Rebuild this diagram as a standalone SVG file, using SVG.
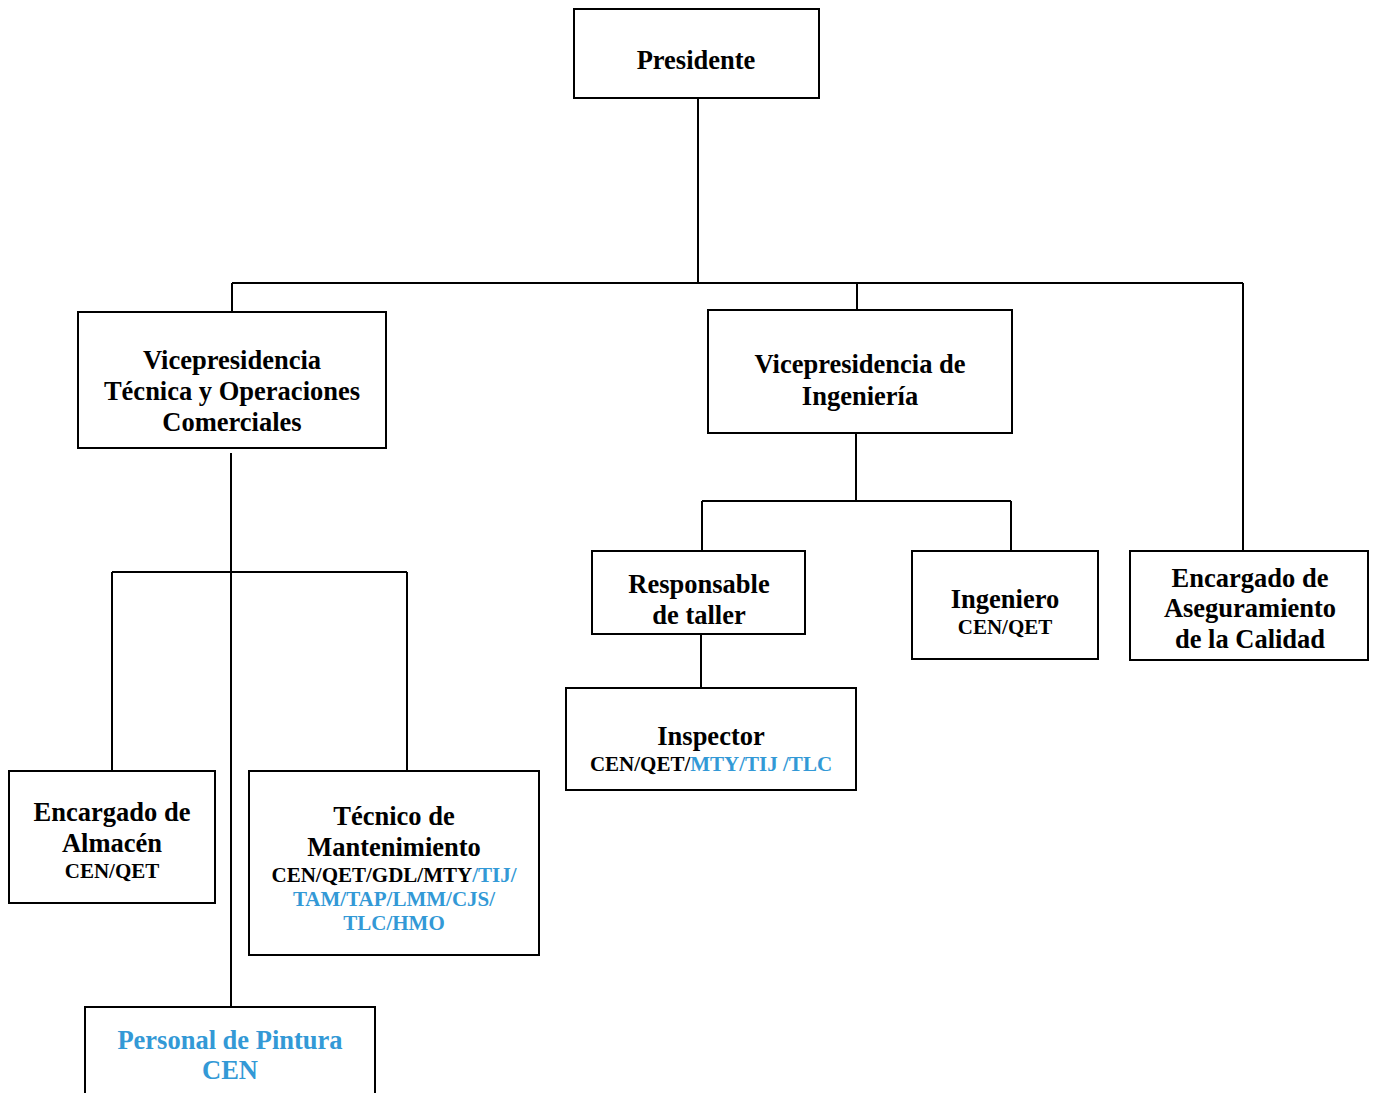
<svg xmlns="http://www.w3.org/2000/svg" width="1373" height="1093" viewBox="0 0 1373 1093">
<style>
.box{fill:#fff;stroke:#000;stroke-width:2}
.ln{stroke:#000;stroke-width:2;fill:none}
text{font-family:"Liberation Serif","Times New Roman",serif;font-weight:bold;text-anchor:middle;fill:#000}
.t{font-size:26.5px}
.s{font-size:21px}
.b{fill:#3399D6}
</style>
<rect width="1373" height="1093" fill="#fff"/>
<g id="connectors">
<path class="ln" d="M698,98V283M232,283H1243M232,283V312M857,283V310M1243,283V551"/>
<path class="ln" d="M856,433V501M702,501H1011M702,501V551M1011,501V551M701,634V688"/>
<path class="ln" d="M231,453V1010M112,572H407M112,572V771M407,572V771"/>
</g>
<g id="presidente">
<rect class="box" x="574" y="9" width="245" height="89"/>
<text class="t" x="696" y="69">Presidente</text>
</g>
<g id="vp-tecnica">
<rect class="box" x="78" y="312" width="308" height="136"/>
<text class="t" x="232" y="369">Vicepresidencia</text>
<text class="t" x="232" y="400">Técnica y Operaciones</text>
<text class="t" x="232" y="431">Comerciales</text>
</g>
<g id="vp-ingenieria">
<rect class="box" x="708" y="310" width="304" height="123"/>
<text class="t" x="860" y="373">Vicepresidencia de</text>
<text class="t" x="860" y="405">Ingeniería</text>
</g>
<g id="aseguramiento">
<rect class="box" x="1130" y="551" width="238" height="109"/>
<text class="t" x="1250" y="587">Encargado de</text>
<text class="t" x="1250" y="617">Aseguramiento</text>
<text class="t" x="1250" y="648">de la Calidad</text>
</g>
<g id="responsable">
<rect class="box" x="592" y="551" width="213" height="83"/>
<text class="t" x="699" y="593">Responsable</text>
<text class="t" x="699" y="624">de taller</text>
</g>
<g id="ingeniero">
<rect class="box" x="912" y="551" width="186" height="108"/>
<text class="t" x="1005" y="608">Ingeniero</text>
<text class="s" x="1005" y="634">CEN/QET</text>
</g>
<g id="inspector">
<rect class="box" x="566" y="688" width="290" height="102"/>
<text class="t" x="711" y="745">Inspector</text>
<text class="s" x="711" y="771">CEN/QET/<tspan class="b">MTY/TIJ /TLC</tspan></text>
</g>
<g id="almacen">
<rect class="box" x="9" y="771" width="206" height="132"/>
<text class="t" x="112" y="821">Encargado de</text>
<text class="t" x="112" y="852">Almacén</text>
<text class="s" x="112" y="878">CEN/QET</text>
</g>
<g id="mantenimiento">
<rect class="box" x="249" y="771" width="290" height="184"/>
<text class="t" x="394" y="825">Técnico de</text>
<text class="t" x="394" y="856">Mantenimiento</text>
<text class="s" x="394" y="882">CEN/QET/GDL/MTY<tspan class="b">/TIJ/</tspan></text>
<text class="s b" x="394" y="906">TAM/TAP/LMM/CJS/</text>
<text class="s b" x="394" y="930">TLC/HMO</text>
</g>
<g id="pintura">
<rect class="box" x="85" y="1007" width="290" height="100"/>
<text class="t b" x="230" y="1049">Personal de Pintura</text>
<text class="t b" x="230" y="1079">CEN</text>
</g>
</svg>
